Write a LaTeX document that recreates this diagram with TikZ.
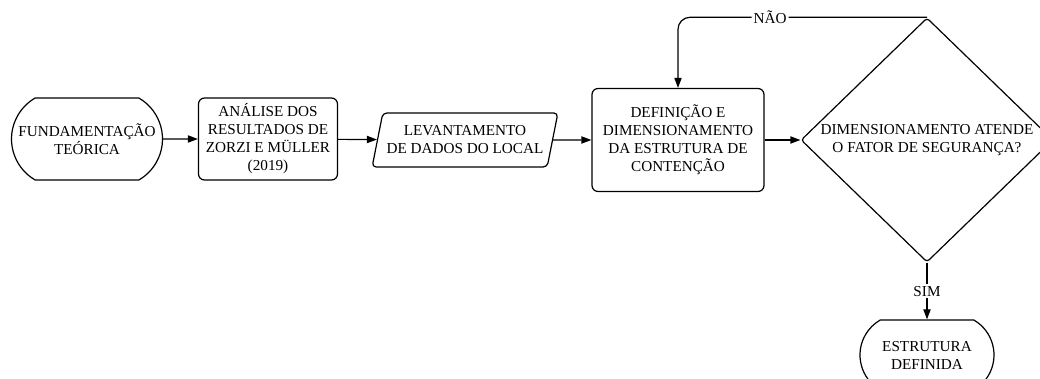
\documentclass[tikz,border=0pt]{standalone}
\usepackage{fontspec}
\setmainfont{Liberation Serif}
\usetikzlibrary{shapes.geometric, shapes.misc, arrows.meta}

\tikzset{
  base/.style={draw, line width=0.6pt, align=center, inner sep=1pt,
    font=\fontsize{7.6}{9}\selectfont},
  terminal/.style={base, rounded rectangle, rounded rectangle arc length=120},
  process/.style={base, rectangle, rounded corners=3pt},
  dados/.style={base, trapezium, trapezium left angle=72, trapezium right angle=108,
    trapezium stretches=true, rounded corners=2pt},
  decisao/.style={base, diamond, inner sep=0pt, rounded corners=1.5pt},
  seta/.style={line width=0.6pt, -{Triangle[length=5pt, width=3.6pt]}},
  rotulo/.style={fill=white, inner sep=1pt, font=\fontsize{7.6}{9}\selectfont}
}

\begin{document}
\begin{tikzpicture}[x=0.5pt, y=-0.5pt] % coordenadas em px da figura
\useasboundingbox (0,0) rectangle (1040,379);

% blocos do fluxograma
\node[terminal, minimum width=77.5pt, minimum height=41pt] (fund) at (87,139)
  {FUNDAMENTAÇÃO\\TEÓRICA};
\node[process, minimum width=69.5pt, minimum height=41pt] (anal) at (268,139)
  {ANÁLISE DOS\\RESULTADOS DE\\ZORZI E MÜLLER\\(2019)};
\node[dados, minimum width=93pt, minimum height=27pt] (lev) at (465,140)
  {LEVANTAMENTO\\DE DADOS DO LOCAL};
\node[process, minimum width=86pt, minimum height=51.5pt] (def) at (678,140)
  {DEFINIÇÃO E\\DIMENSIONAMENTO\\DA ESTRUTURA DE\\CONTENÇÃO};
\node[decisao, minimum width=126pt, minimum height=117pt] (dec) at (927,140)
  {DIMENSIONAMENTO ATENDE\\O FATOR DE SEGURANÇA?};
\node[terminal, minimum width=69pt, minimum height=35pt] (est) at (927,355)
  {ESTRUTURA\\DEFINIDA};

% ligacoes
\draw[seta] (fund) -- (anal);
\draw[seta] (anal) -- (lev);
\draw[seta] (lev) -- (def);
\draw[seta] (def) -- (dec.west);
\draw[seta, rounded corners=6pt] (dec.north) -- node[rotulo, pos=0.63]{NÃO}
  (def.north |- dec.north) -- (def.north);
\draw[seta] (dec.south) -- node[rotulo]{SIM} (est.north);
\end{tikzpicture}
\end{document}
